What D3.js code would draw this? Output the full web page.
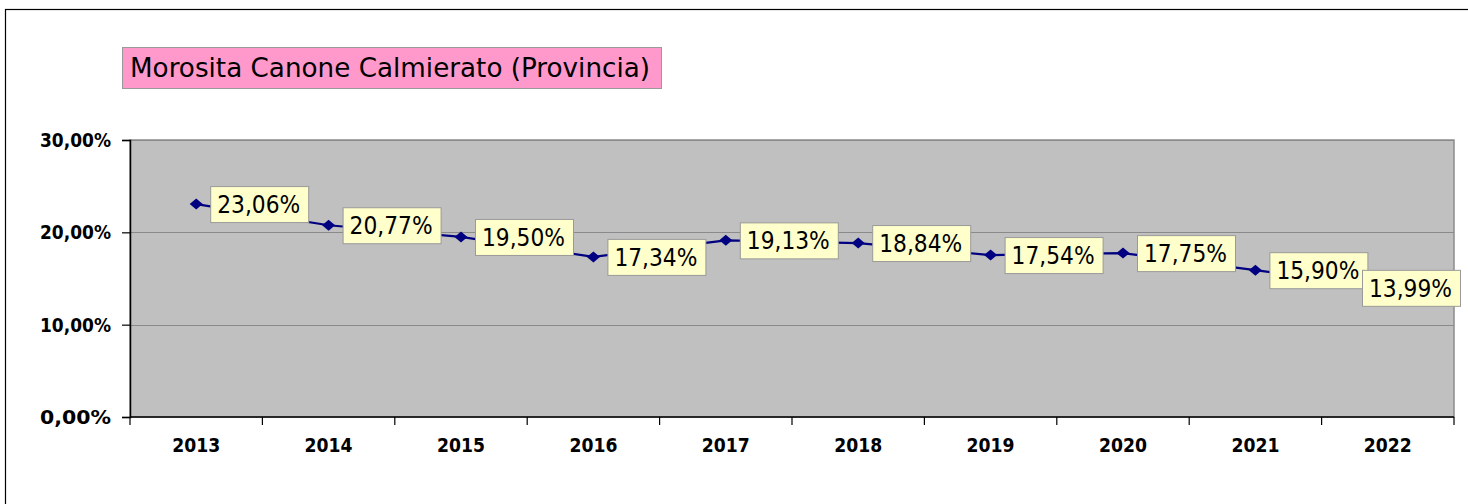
<!DOCTYPE html>
<html>
<head>
<meta charset="utf-8">
<script src="https://cdn.jsdelivr.net/npm/d3@7"></script>
<style>
  body { margin: 0; background: #fff; }
  svg { display: block; font-family: "DejaVu Sans", Verdana, sans-serif; }
</style>
</head>
<body>
<div id="chart"></div>
<script>
// data
var years = ["2013","2014","2015","2016","2017","2018","2019","2020","2021","2022"];
var values = [23.06, 20.77, 19.50, 17.34, 19.13, 18.84, 17.54, 17.75, 15.90, 13.99];
var yTicks = [0, 10, 20, 30];
var title = "Morosita Canone Calmierato (Provincia)";

var width = 1468, height = 504;
var plot = {left: 130, right: 1454, top: 140, bottom: 417};

var svg = d3.select("#chart").append("svg")
    .attr("width", width)
    .attr("height", height);

// outer frame (right and bottom edges fall outside the picture)
svg.append("rect")
    .attr("x", 5.5).attr("y", 9.5)
    .attr("width", width + 20).attr("height", height + 20)
    .attr("fill", "#fff")
    .attr("stroke", "#000")
    .attr("stroke-width", 1.2);

var x = d3.scaleBand().domain(years).range([plot.left, plot.right]);
var y = d3.scaleLinear().domain([0, 30]).range([plot.bottom, plot.top]);

var fmt = function(v){ return d3.format(".2f")(v).replace(".", ",") + "%"; };

// plot background
svg.append("rect")
    .attr("x", plot.left).attr("y", plot.top)
    .attr("width", plot.right - plot.left).attr("height", plot.bottom - plot.top)
    .attr("fill", "#c0c0c0")
    .attr("stroke", "#8c8c8c")
    .attr("stroke-width", 1.5);

// gridlines
svg.append("g").selectAll("line")
    .data(yTicks.filter(function(d){ return d > 0; }))
    .enter().append("line")
    .attr("x1", plot.left).attr("x2", plot.right)
    .attr("y1", function(d){ return Math.round(y(d)) + 0.5; })
    .attr("y2", function(d){ return Math.round(y(d)) + 0.5; })
    .attr("stroke", "#8a8a8a")
    .attr("stroke-width", 1.2);

// y axis
var yAxis = svg.append("g")
    .attr("transform", "translate(" + plot.left + ",0)")
    .call(d3.axisLeft(y).tickValues(yTicks).tickSize(8).tickFormat(fmt));
yAxis.select(".domain").attr("stroke", "#000").attr("stroke-width", 1.5);
yAxis.selectAll(".tick line").attr("stroke", "#000").attr("stroke-width", 1.2);
yAxis.selectAll("text")
    .attr("x", -19)
    .attr("dy", "0.35em")
    .attr("textLength", 71)
    .attr("lengthAdjust", "spacingAndGlyphs")
    .style("font-size", "19px")
    .style("font-weight", "bold")
    .style("font-family", "'DejaVu Sans', Verdana, sans-serif")
    .attr("fill", "#000");

// x axis: ticks between categories
var xAxis = svg.append("g")
    .attr("transform", "translate(0," + plot.bottom + ")");
xAxis.append("line")
    .attr("x1", plot.left).attr("x2", plot.right)
    .attr("stroke", "#000").attr("stroke-width", 1.5);
var bounds = years.map(function(d){ return x(d); }).concat([x(years[years.length-1]) + x.bandwidth()]);
xAxis.selectAll(".xt")
    .data(bounds)
    .enter().append("line")
    .attr("x1", function(d){ return d; }).attr("x2", function(d){ return d; })
    .attr("y1", 0).attr("y2", 8)
    .attr("stroke", "#000").attr("stroke-width", 1.2);
xAxis.selectAll("text")
    .data(years)
    .enter().append("text")
    .attr("x", function(d){ return x(d) + x.bandwidth()/2; })
    .attr("y", 35)
    .attr("text-anchor", "middle")
    .attr("textLength", 48)
    .attr("lengthAdjust", "spacingAndGlyphs")
    .style("font-size", "19px")
    .style("font-weight", "bold")
    .text(function(d){ return d; });

// line
var cx = function(d, i){ return x(years[i]) + x.bandwidth()/2; };
var line = d3.line()
    .x(function(d, i){ return cx(d, i); })
    .y(function(d){ return y(d); });
svg.append("path")
    .datum(values)
    .attr("d", line)
    .attr("fill", "none")
    .attr("stroke", "#000080")
    .attr("stroke-width", 2.2);

// markers - wide diamonds
svg.append("g").selectAll("path")
    .data(values)
    .enter().append("path")
    .attr("d", "M-6.5,0L0,-5.5L6.5,0L0,5.5Z")
    .attr("transform", function(d, i){ return "translate(" + cx(d, i) + "," + y(d) + ")"; })
    .attr("fill", "#000080");

// data labels (last one pushed back inside the picture, like excel does)
var boxW = 98, boxH = 36;
var labelX = function(d, i){ return Math.min(cx(d, i) + 14, width - 106); };
var labels = svg.append("g").selectAll("g")
    .data(values)
    .enter().append("g")
    .attr("transform", function(d, i){ return "translate(" + labelX(d, i) + "," + y(d) + ")"; });
labels.append("rect")
    .attr("x", 0.5).attr("y", -boxH/2 + 0.5)
    .attr("width", boxW)
    .attr("height", boxH)
    .attr("fill", "#ffffcc")
    .attr("stroke", "#9a9a9a")
    .attr("stroke-width", 1);
labels.append("text")
    .attr("x", 7).attr("y", 9)
    .attr("textLength", 83)
    .attr("lengthAdjust", "spacingAndGlyphs")
    .style("font-size", "25px")
    .attr("fill", "#000")
    .text(fmt);

// title
svg.append("rect")
    .attr("x", 122.5).attr("y", 47.5)
    .attr("width", 539).attr("height", 41)
    .attr("fill", "#ff99cc")
    .attr("stroke", "#9a9a9a");
svg.append("text")
    .attr("x", 130).attr("y", 77)
    .attr("textLength", 520)
    .attr("lengthAdjust", "spacingAndGlyphs")
    .style("font-size", "27px")
    .attr("fill", "#000")
    .text(title);
</script>
</body>
</html>
